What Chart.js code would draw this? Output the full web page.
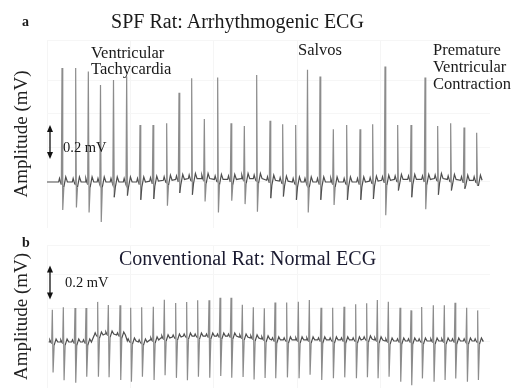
<!DOCTYPE html>
<html>
<head>
<meta charset="utf-8">
<script src="https://cdn.jsdelivr.net/npm/chart.js@4.4.0/dist/chart.umd.min.js"></script>
<style>
  html, body { margin: 0; padding: 0; background: #fff; }
  #wrap { position: relative; width: 511px; height: 392px; overflow: hidden; }
  .box { position: absolute; left: 0; width: 490px; }
  #boxA { top: 40px; height: 188px; }
  #boxB { top: 245px; height: 143px; }
  svg { position: absolute; left: 0; top: 0; }
</style>
</head>
<body>
<div id="wrap">
  <div class="box" id="boxA"><canvas id="ecgA"></canvas></div>
  <div class="box" id="boxB"><canvas id="ecgB"></canvas></div>
  <svg width="511" height="392" font-family="Liberation Serif, Times New Roman, serif" fill="#1a1a1a">
    <text x="22" y="26" font-size="14" font-weight="bold">a</text>
    <text x="237.5" y="28" font-size="20" text-anchor="middle">SPF Rat: Arrhythmogenic ECG</text>
    <text x="91" y="58" font-size="16.5">Ventricular</text>
    <text x="91" y="74" font-size="16.5">Tachycardia</text>
    <text x="298" y="55" font-size="16.5">Salvos</text>
    <text x="433" y="55" font-size="16.5">Premature</text>
    <text x="433" y="72" font-size="16.5">Ventricular</text>
    <text x="433" y="89" font-size="16.5">Contraction</text>
    <text x="63" y="152" font-size="14.5">0.2 mV</text>
    <text x="22" y="247" font-size="14" font-weight="bold">b</text>
    <text x="247.5" y="265" font-size="20" text-anchor="middle" fill="#1a1a30">Conventional Rat: Normal ECG</text>
    <text x="65" y="287" font-size="14.5">0.2 mV</text>
  </svg>
</div>
<script>
// Panel a - SPF rat, arrhythmogenic ECG (time in s, amplitudes in mV)
const beatTimeA = [0.180, 0.344, 0.496, 0.642, 0.798, 0.956, 1.116, 1.272, 1.436, 1.584, 1.736,
  1.888, 2.048, 2.208, 2.368, 2.516, 2.676, 2.828, 2.984, 3.126, 3.276, 3.436, 3.596, 3.756,
  3.908, 4.056, 4.208, 4.368, 4.536, 4.688, 4.844, 5.004, 5.156];
const rPeakA = [0.67, 0.67, 0.65, 0.57, 0.60, 0.62, 0.335, 0.33, 0.335, 0.51, 0.59,
  0.35, 0.60, 0.33, 0.31, 0.61, 0.35, 0.335, 0.335, 0.66, 0.62, 0.31, 0.335, 0.31,
  0.335, 0.67, 0.32, 0.32, 0.60, 0.31, 0.33, 0.31, 0.28];
const sTroughA = [-0.165, -0.15, -0.18, -0.235, -0.09, -0.08, -0.105, -0.105, -0.15, -0.08, -0.095,
  -0.135, -0.195, -0.125, -0.15, -0.195, -0.105, -0.09, -0.105, -0.18, -0.105, -0.135, -0.105, -0.105,
  -0.105, -0.205, -0.065, -0.105, -0.175, -0.095, -0.065, -0.05, -0.03];
const baselineA = [0, 0, 0, 0, 0, 0, 0, 0.005, 0.01, 0.015, 0.02,
  0.02, 0.015, 0.015, 0.02, 0.02, 0.01, 0.005, 0, 0, 0, 0, 0, 0,
  0.005, 0.01, 0.015, 0.015, 0.015, 0.02, 0.015, 0.01, 0.01];

// Panel b - conventional rat, normal ECG
const beatTimeB = [0.064, 0.196, 0.336, 0.468, 0.608, 0.736, 0.876, 1.004, 1.136, 1.276,
  1.408, 1.544, 1.676, 1.808, 1.944, 2.076, 2.208, 2.344, 2.476, 2.608,
  2.736, 2.876, 3.016, 3.148, 3.288, 3.428, 3.564, 3.704, 3.836, 3.964,
  4.096, 4.236, 4.368, 4.496, 4.636, 4.768, 4.896, 5.036, 5.168];
const rPeakB = [0.19, 0.205, 0.20, 0.20, 0.195, 0.17, 0.175, 0.195, 0.205, 0.195,
  0.225, 0.20, 0.20, 0.21, 0.21, 0.225, 0.225, 0.19, 0.18, 0.18,
  0.22, 0.22, 0.225, 0.235, 0.19, 0.19, 0.195, 0.21, 0.21, 0.235,
  0.23, 0.195, 0.18, 0.20, 0.21, 0.21, 0.225, 0.195, 0.18];
const sTroughB = [-0.18, -0.225, -0.24, -0.205, -0.245, -0.255, -0.265, -0.24, -0.205, -0.235,
  -0.22, -0.24, -0.26, -0.24, -0.245, -0.235, -0.245, -0.235, -0.245, -0.23,
  -0.225, -0.22, -0.225, -0.205, -0.235, -0.225, -0.22, -0.225, -0.225, -0.225,
  -0.21, -0.24, -0.26, -0.22, -0.24, -0.23, -0.22, -0.24, -0.23];
const baselineB = [0, 0, 0, 0, 0.041, 0.047, 0.041, 0.006, 0, 0.012,
  0.024, 0.029, 0.035, 0.035, 0.035, 0.035, 0.035, 0.029, 0.024, 0.018,
  0.012, 0.012, 0.012, 0.012, 0.012, 0.012, 0.012, 0.012, 0.018, 0.012,
  0.006, 0.006, 0.006, 0.006, 0.006, 0.006, 0.006, 0.006, 0.006];

const X_MAX = 5.316;
const FONT = "'Liberation Serif', 'Times New Roman', serif";

// P-Q-R-S-T shape around each beat, w = size of the small P/T waves
function buildTrace(times, rPeak, sTrough, base, tStart, tEnd, w) {
    const pts = [{ x: tStart, y: base[0] }];
    times.forEach((t, i) => {
        const b = base[i];
        pts.push(
            { x: t - 0.040, y: b },
            { x: t - 0.030, y: b + w * 0.7 },
            { x: t - 0.018, y: b },
            { x: t - 0.008, y: b - w * 0.5 },
            { x: t, y: b + rPeak[i] },
            { x: t + 0.009, y: b + sTrough[i] },
            { x: t + 0.022, y: b - w },
            { x: t + 0.045, y: b + w },
            { x: t + 0.065, y: b }
        );
    });
    pts.push({ x: tEnd, y: base[base.length - 1] });
    return pts;
}

// double arrow showing the 0.2 mV calibration
const scaleBar = {
    id: 'scaleBar',
    afterDatasetsDraw(chart, args, opts) {
        const { ctx, scales: { x, y } } = chart;
        const px = x.getPixelForValue(opts.at);
        const top = y.getPixelForValue(opts.to);
        const bot = y.getPixelForValue(opts.from);
        ctx.save();
        ctx.strokeStyle = '#111';
        ctx.fillStyle = '#111';
        ctx.lineWidth = 1.3;
        ctx.beginPath();
        ctx.moveTo(px, top + 4);
        ctx.lineTo(px, bot - 4);
        ctx.stroke();
        ctx.beginPath();
        ctx.moveTo(px, top); ctx.lineTo(px - 3, top + 7); ctx.lineTo(px + 3, top + 7);
        ctx.closePath(); ctx.fill();
        ctx.beginPath();
        ctx.moveTo(px, bot); ctx.lineTo(px - 3, bot - 7); ctx.lineTo(px + 3, bot - 7);
        ctx.closePath(); ctx.fill();
        ctx.restore();
    }
};

// steep QRS strokes are lighter than the baseline, as in the scan
const steep = (c) => Math.abs(c.p1.parsed.y - c.p0.parsed.y) > 0.08;

function makeChart(id, pts, yMin, yMax, bar) {
    return new Chart(document.getElementById(id), {
        type: 'line',
        data: {
            datasets: [{
                data: pts,
                borderColor: '#555',
                borderWidth: 1.2,
                segment: {
                    borderColor: (c) => steep(c) ? '#8c8c8c' : '#4e4e4e'
                },
                pointRadius: 0,
                tension: 0,
                fill: false
            }]
        },
        options: {
            responsive: true,
            maintainAspectRatio: false,
            animation: false,
            layout: { padding: 0 },
            plugins: {
                legend: { display: false },
                tooltip: { enabled: false },
                scaleBar: bar
            },
            scales: {
                x: {
                    type: 'linear',
                    min: 0,
                    max: X_MAX,
                    ticks: { display: false, stepSize: 1 },
                    grid: { color: '#f5f5f5', drawTicks: false },
                    border: { display: false },
                    afterFit: (s) => { s.height = 0; }
                },
                y: {
                    min: yMin,
                    max: yMax,
                    ticks: { display: false, stepSize: 0.2 },
                    grid: { color: '#f6f6f6', drawTicks: false },
                    border: { display: false },
                    title: {
                        display: true,
                        text: 'Amplitude (mV)',
                        color: '#222',
                        font: { family: FONT, size: 19 },
                        padding: { top: 11, bottom: 0 }
                    },
                    afterFit: (s) => { s.width = 47; }
                }
            }
        },
        plugins: [scaleBar]
    });
}

makeChart('ecgA', buildTrace(beatTimeA, rPeakA, sTroughA, baselineA, 0, 5.23, 0.03),
    -0.2706, 0.8353, { at: 0.036, from: 0.135, to: 0.335 });
makeChart('ecgB', buildTrace(beatTimeB, rPeakB, sTroughB, baselineB, 0.02, 5.22, 0.018),
    -0.2706, 0.5706, { at: 0.036, from: 0.25, to: 0.45 });
</script>
</body>
</html>
